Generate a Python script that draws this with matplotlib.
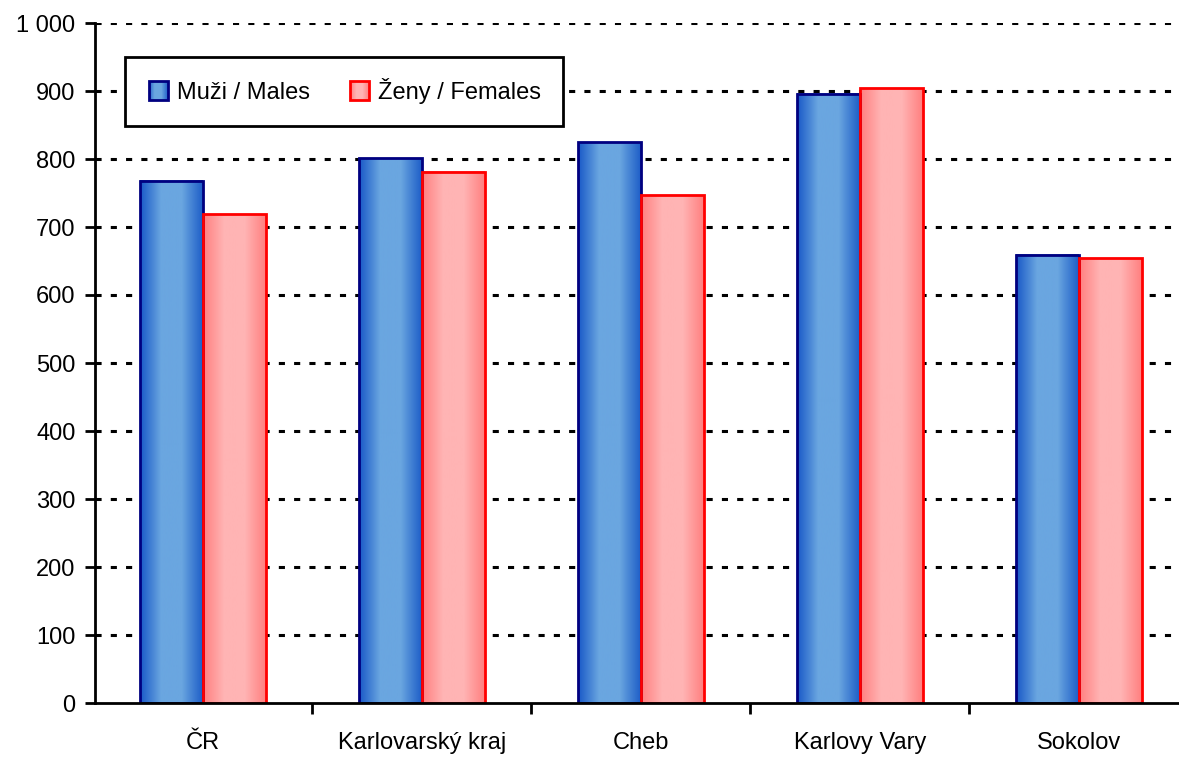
import numpy as np
import matplotlib
matplotlib.use("Agg")
import matplotlib.pyplot as plt
from matplotlib.colors import LinearSegmentedColormap
from matplotlib.legend_handler import HandlerBase
from matplotlib.patches import Rectangle

categories = ["ČR", "Karlovarský kraj", "Cheb", "Karlovy Vary", "Sokolov"]
males = [768, 801, 825, 896, 659]
females = [719, 781, 747, 904, 654]
series_labels = ["Muži / Males", "Ženy / Females"]

plt.rcParams['font.family'] = ['Liberation Sans', 'DejaVu Sans']

blue_cmap = LinearSegmentedColormap.from_list("b", ["#1a5ac8", "#6aa6e0", "#6aa6e0", "#1f5fc8"])
red_cmap = LinearSegmentedColormap.from_list("r", ["#ff8080", "#ffb4b4", "#ffb4b4", "#ff8080"])
grad = np.linspace(0, 1, 64).reshape(1, -1)


class GradientHandler(HandlerBase):
    def __init__(self, cmap, edge):
        super().__init__()
        self.cmap = cmap
        self.edge = edge

    def create_artists(self, legend, orig_handle, xdescent, ydescent, width, height, fontsize, trans):
        size = height * 1.15
        x0 = -xdescent + (width - size) / 2
        y0 = -ydescent + (height - size) / 2
        arts = []
        n = 20
        for i in range(n):
            arts.append(Rectangle((x0 + i * size / n, y0), size / n * 1.05, size,
                                  facecolor=self.cmap((i + 0.5) / n), edgecolor='none', transform=trans))
        arts.append(Rectangle((x0, y0), size, size, facecolor='none', edgecolor=self.edge,
                              linewidth=2, transform=trans))
        return arts


fig = plt.figure(figsize=(11.79, 7.6), dpi=100)
ax = fig.add_axes([95 / 1179, 57 / 760, 1084 / 1179, 680 / 760])

x = np.arange(len(categories))
w = 0.287
for xi, m, f in zip(x, males, females):
    ax.imshow(grad, cmap=blue_cmap, extent=[xi - w, xi, 0, m], aspect='auto', zorder=2)
    ax.imshow(grad, cmap=red_cmap, extent=[xi, xi + w, 0, f], aspect='auto', zorder=2)
b1 = ax.bar(x - w / 2, males, w, fill=False, edgecolor='#000080', linewidth=2, zorder=3)
b2 = ax.bar(x + w / 2, females, w, fill=False, edgecolor='#ff0000', linewidth=2, zorder=3)

ax.set_xlim(-0.493, 4.457)
ax.set_ylim(0, 1000)
ax.set_yticks(np.arange(0, 1001, 100))
ax.set_yticklabels([f"{v:,}".replace(",", " ") for v in range(0, 1001, 100)])
ax.set_xticks(x)
ax.set_xticklabels(categories)
ax.set_xticks(np.arange(0.5, 4.5, 1), minor=True)
ax.tick_params(axis='x', which='major', length=0, pad=21, labelsize=17)
ax.tick_params(axis='x', which='minor', length=8, width=2, direction='out')
ax.tick_params(axis='y', length=7, width=2, direction='out', labelsize=17, pad=7)

for v in range(100, 1001, 100):
    ax.axhline(v, color='black', linestyle=(0, (2, 3)), linewidth=2.2, zorder=1)

for s in ['top', 'right']:
    ax.spines[s].set_visible(False)
for s in ['left', 'bottom']:
    ax.spines[s].set_linewidth(2)
    ax.spines[s].set_zorder(4)

leg = ax.legend([b1, b2], series_labels, ncol=2, loc='upper left',
                bbox_to_anchor=(30 / 1084, 646 / 680), borderaxespad=0,
                fontsize=17, frameon=True, fancybox=False, framealpha=1,
                handlelength=1.0, handletextpad=0.3, columnspacing=1.6, borderpad=0.9,
                handler_map={b1: GradientHandler(blue_cmap, '#000080'),
                             b2: GradientHandler(red_cmap, '#ff0000')})
leg.get_frame().set_edgecolor('black')
leg.get_frame().set_linewidth(2)
leg.set_zorder(5)

fig.savefig("out.png", dpi=100)
